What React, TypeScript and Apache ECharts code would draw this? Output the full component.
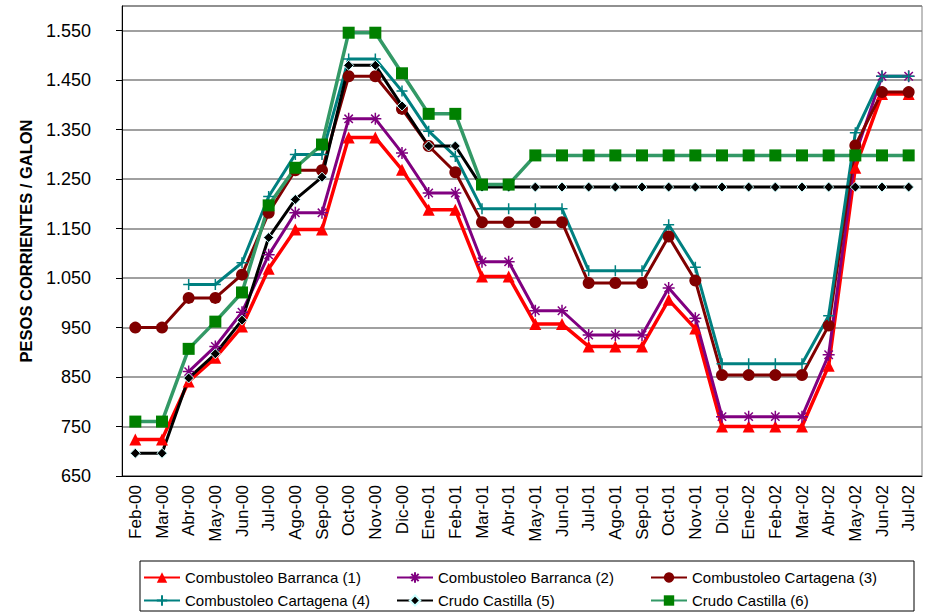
import React, { useEffect, useRef } from "react";
import * as echarts from "echarts";

const categories = [
  "Feb-00", "Mar-00", "Abr-00", "May-00", "Jun-00", "Jul-00", "Ago-00", "Sep-00", "Oct-00", "Nov-00",
  "Dic-00", "Ene-01", "Feb-01", "Mar-01", "Abr-01", "May-01", "Jun-01", "Jul-01", "Ago-01", "Sep-01",
  "Oct-01", "Nov-01", "Dic-01", "Ene-02", "Feb-02", "Mar-02", "Abr-02", "May-02", "Jun-02", "Jul-02",
];

const barranca1 = [724, 724, 841, 889, 952, 1069, 1148, 1148, 1334, 1334, 1269, 1188, 1188, 1053, 1053, 957, 957, 912, 912, 912, 1006, 948, 750, 750, 750, 750, 873, 1273, 1422, 1422];
const barranca2 = [null, null, 861, 912, 981, 1097, 1182, 1182, 1372, 1372, 1303, 1222, 1222, 1083, 1083, 984, 984, 935, 935, 935, 1030, 969, 770, 770, 770, 770, 895, 1300, 1458, 1458];
const cartagena3 = [950, 950, 1010, 1010, 1057, 1182, 1268, 1268, 1458, 1458, 1392, 1317, 1264, 1163, 1163, 1163, 1163, 1040, 1040, 1040, 1134, 1045, 854, 854, 854, 854, 954, 1318, 1426, 1426];
const cartagena4 = [null, null, 1037, 1037, 1081, 1215, 1300, 1300, 1493, 1493, 1428, 1347, 1296, 1190, 1190, 1190, 1190, 1065, 1065, 1065, 1158, 1072, 877, 877, 877, 877, 974, 1344, 1458, 1458];
const castilla5 = [696, 696, 848, 897, 965, 1132, 1209, 1254, 1480, 1480, 1398, 1317, 1317, 1234, 1234, 1234, 1234, 1234, 1234, 1234, 1234, 1234, 1234, 1234, 1234, 1234, 1234, 1234, 1234, 1234];
const castilla6 = [760, 760, 907, 962, 1021, 1197, 1273, 1320, 1546, 1546, 1464, 1382, 1382, 1239, 1239, 1298, 1298, 1298, 1298, 1298, 1298, 1298, 1298, 1298, 1298, 1298, 1298, 1298, 1298, 1298];

const seriesNames = [
  "Combustoleo Barranca (1)",
  "Combustoleo Barranca (2)",
  "Combustoleo Cartagena (3)",
  "Combustoleo Cartagena (4)",
  "Crudo Castilla (5)",
  "Crudo Castilla (6)",
];

const yTitle = "PESOS CORRIENTES / GALON";
const FONT = "'Liberation Sans', Arial, sans-serif";

const STAR = "path://M0,5 L10,5 M5,0 L5,10 M1.5,1.5 L8.5,8.5 M8.5,1.5 L1.5,8.5";
const PLUS = "path://M0,5 L10,5 M5,0 L5,10";

function fmt(v: number) {
  const s = String(Math.round(v));
  return s.length > 3 ? s.slice(0, s.length - 3) + "." + s.slice(s.length - 3) : s;
}

export default function App() {
  const ref = useRef<HTMLDivElement>(null);
  useEffect(() => {
    if (!ref.current) return;
    const chart = echarts.init(ref.current, null, { renderer: "svg" });
    const legendPos = [
      [143, 570],
      [396, 570],
      [650, 570],
      [143, 593],
      [396, 593],
      [650, 593],
    ];
    const legends = seriesNames.map((n, i) => ({
      data: [n],
      left: legendPos[i][0],
      top: legendPos[i][1],
      itemWidth: 36,
      itemHeight: 13,
      itemGap: 0,
      textStyle: { fontFamily: FONT, fontSize: 15, color: "#000" },
      padding: 0,
    }));
    chart.setOption({
      animation: false,
      backgroundColor: "#fff",
      grid: {
        left: 122,
        right: 6,
        top: 6,
        bottom: 138,
        show: true,
        borderColor: "#808080",
        borderWidth: 1,
      },
      legend: legends,
      graphic: [
        {
          type: "rect",
          shape: { x: 140, y: 561, width: 774, height: 50 },
          style: { fill: "none", stroke: "#000", lineWidth: 1 },
        },
      ],
      xAxis: {
        type: "category",
        data: categories,
        boundaryGap: true,
        axisLine: { lineStyle: { color: "#000", width: 1 } },
        axisTick: { interval: 0, length: 5, lineStyle: { color: "#000" } },
        axisLabel: {
          interval: 0,
          rotate: 90,
          margin: 9,
          fontFamily: FONT,
          fontSize: 17,
          color: "#000",
        },
      },
      yAxis: {
        type: "value",
        min: 650,
        max: 1600,
        interval: 100,
        name: yTitle,
        nameLocation: "middle",
        nameGap: 88,
        nameTextStyle: { fontFamily: FONT, fontSize: 16.5, fontWeight: "bold", color: "#000" },
        axisLine: { show: true, lineStyle: { color: "#000", width: 1 } },
        axisTick: { show: true, length: 6, lineStyle: { color: "#000" } },
        axisLabel: {
          showMaxLabel: false,
          margin: 31,
          fontFamily: FONT,
          fontSize: 18,
          color: "#000",
          formatter: (v: number) => (v >= 1600 ? "" : fmt(v)),
        },
        splitLine: { lineStyle: { color: "#808080", width: 1.5 } },
      },
      series: [
        {
          name: seriesNames[0],
          type: "line",
          data: barranca1,
          symbol: "triangle",
          symbolSize: 12,
          lineStyle: { color: "#ff0000", width: 3.5 },
          itemStyle: { color: "#ff0000" },
        },
        {
          name: seriesNames[1],
          type: "line",
          data: barranca2,
          symbol: STAR,
          symbolSize: 12,
          lineStyle: { color: "#800080", width: 3 },
          itemStyle: { color: "#800080", borderColor: "#800080", borderWidth: 1.5 },
        },
        {
          name: seriesNames[2],
          type: "line",
          data: cartagena3,
          symbol: "circle",
          symbolSize: 12,
          lineStyle: { color: "#800000", width: 3 },
          itemStyle: { color: "#800000" },
        },
        {
          name: seriesNames[3],
          type: "line",
          data: cartagena4,
          symbol: PLUS,
          symbolSize: 11,
          lineStyle: { color: "#008080", width: 3 },
          itemStyle: { color: "#008080", borderColor: "#008080", borderWidth: 1.5 },
        },
        {
          name: seriesNames[4],
          type: "line",
          data: castilla5,
          symbol: "diamond",
          symbolSize: 10,
          lineStyle: { color: "#000000", width: 3 },
          itemStyle: { color: "#000000", borderColor: "#ccffff", borderWidth: 1 },
        },
        {
          name: seriesNames[5],
          type: "line",
          data: castilla6,
          symbol: "rect",
          symbolSize: 12,
          lineStyle: { color: "#339966", width: 3.5 },
          itemStyle: { color: "#008000" },
        },
      ],
    });
    return () => chart.dispose();
  }, []);
  return (
    <div
      ref={ref}
      style={{ position: "fixed", left: 0, top: 0, width: 928, height: 614 }}
    />
  );
}
